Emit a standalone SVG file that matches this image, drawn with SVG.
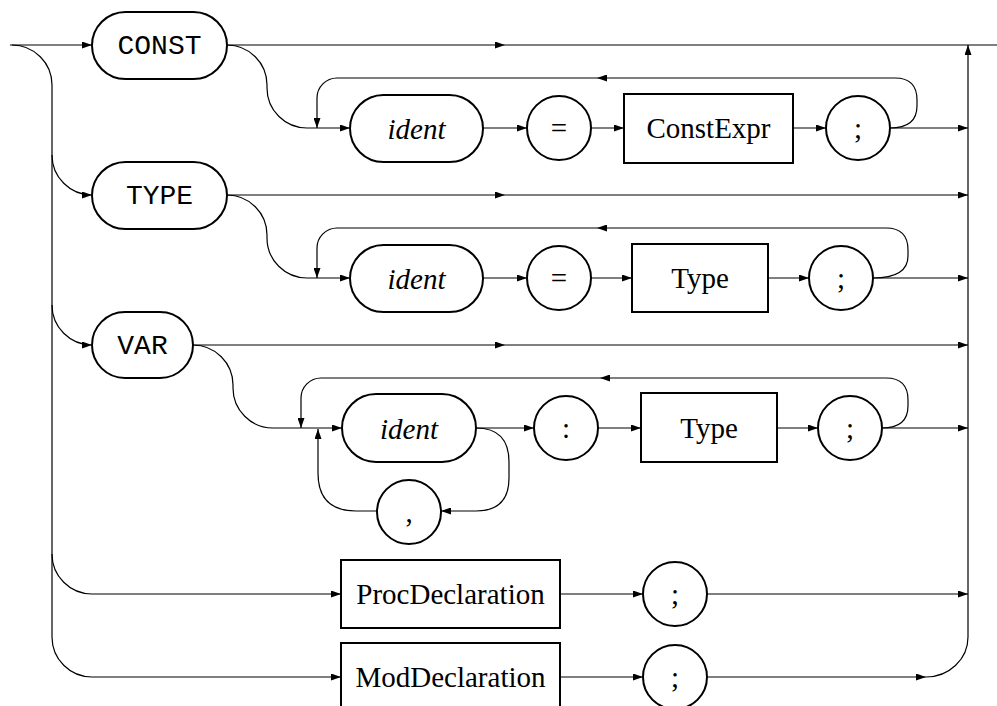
<svg xmlns="http://www.w3.org/2000/svg" width="997" height="706" viewBox="0 0 997 706">
<style>
.n{fill:#fff;stroke:#000;stroke-width:2}
.c{fill:none;stroke:#000;stroke-width:1.2}
.m{font-family:"Liberation Mono",monospace;font-size:28px;text-anchor:middle;fill:#000}
.s{font-family:"Liberation Serif",serif;font-size:29px;text-anchor:middle;fill:#000}
.i{font-style:italic}
</style>
<defs>
<marker id="a" viewBox="0 0 10 7" refX="10" refY="3.5" markerWidth="10" markerHeight="7" markerUnits="userSpaceOnUse" orient="auto">
<path d="M0,0 L10,3.5 L0,7 z" fill="#000"/>
</marker>
</defs>
<rect width="997" height="706" fill="#fff"/>
<g id="connectors" class="c" marker-end="url(#a)">
<!-- entry and left bus -->
<path d="M10,45 H92"/>
<path d="M12,45 A40,40 0 0 1 52,85 V637 A40,40 0 0 0 92,677 H341"/>
<path d="M52,155 A40,40 0 0 0 92,195"/>
<path d="M52,305 A40,40 0 0 0 92,345"/>
<path d="M52,554 A40,40 0 0 0 92,594 H341"/>
<!-- right bus -->
<path d="M968,637 V45"/>
<path d="M926,677 A42,40 0 0 0 968,637" marker-end="none"/>
<!-- CONST row -->
<path d="M227,45 H505"/>
<path d="M505,45 H997" marker-end="none"/>
<path d="M227,45 A40,40 0 0 1 267,85 V88 A40,40 0 0 0 307,128 H350"/>
<path d="M890,128 Q917,128 917,106 V100 Q917,78 895,78 H597"/>
<path d="M597,78 H337 A20,20 0 0 0 317,98 V128"/>
<path d="M483,128 H527"/>
<path d="M591,128 H624"/>
<path d="M793,128 H826"/>
<path d="M890,128 H968"/>
<!-- TYPE row -->
<path d="M227,195 H505"/>
<path d="M505,195 H968"/>
<path d="M227,195 A40,40 0 0 1 267,235 V238 A40,40 0 0 0 307,278 H350"/>
<path d="M873,278 Q908,278 908,256 V250 Q908,228 886,228 H597"/>
<path d="M597,228 H337 A20,20 0 0 0 317,248 V278"/>
<path d="M483,278 H527"/>
<path d="M591,278 H632"/>
<path d="M768,278 H809"/>
<path d="M873,278 H968"/>
<!-- VAR row -->
<path d="M193,345 H505"/>
<path d="M505,345 H968"/>
<path d="M193,345 A40,40 0 0 1 233,385 V388 A40,40 0 0 0 273,428 H342"/>
<path d="M882,428 Q908,428 908,406 V400 Q908,378 886,378 H600"/>
<path d="M600,378 H321 A20,20 0 0 0 301,398 V428"/>
<path d="M476,428 Q509,428 509,462 V478 Q509,511 476,511 H441"/>
<path d="M377,511 H356 Q318,511 318,473 V429"/>
<path d="M476,428 H534"/>
<path d="M598,428 H641"/>
<path d="M777,428 H818"/>
<path d="M882,428 H968"/>
<!-- Proc / Mod rows -->
<path d="M560,594 H643"/>
<path d="M707,594 H968"/>
<path d="M560,677 H643"/>
<path d="M707,677 H926"/>
</g>
<g id="const"><rect class="n" x="92" y="12" width="135" height="67" rx="33.5"/><text class="m" x="159.5" y="54">CONST</text></g>
<g id="type"><rect class="n" x="92" y="162" width="135" height="67" rx="33.5"/><text class="m" x="159.5" y="204">TYPE</text></g>
<g id="var"><rect class="n" x="92" y="312" width="101" height="66" rx="33"/><text class="m" x="142.5" y="354">VAR</text></g>
<g id="ident1"><rect class="n" x="350" y="95" width="133" height="67" rx="33.5"/><text class="s i" x="416.5" y="139">ident</text></g>
<g id="eq1"><circle class="n" cx="559" cy="128" r="32"/><text class="s" x="559" y="138">=</text></g>
<g id="constexpr"><rect class="n" x="624" y="94" width="169" height="69"/><text class="s" x="708.5" y="138">ConstExpr</text></g>
<g id="semi1"><circle class="n" cx="858" cy="128" r="32"/><text class="s" x="858" y="138">;</text></g>
<g id="ident2"><rect class="n" x="350" y="245" width="133" height="67" rx="33.5"/><text class="s i" x="416.5" y="289">ident</text></g>
<g id="eq2"><circle class="n" cx="559" cy="278" r="32"/><text class="s" x="559" y="288">=</text></g>
<g id="type2"><rect class="n" x="632" y="244" width="136" height="68"/><text class="s" x="700" y="288">Type</text></g>
<g id="semi2"><circle class="n" cx="841" cy="278" r="32"/><text class="s" x="841" y="288">;</text></g>
<g id="ident3"><rect class="n" x="342" y="394" width="134" height="68" rx="34"/><text class="s i" x="409" y="439">ident</text></g>
<g id="colon"><circle class="n" cx="566" cy="428" r="32"/><text class="s" x="566" y="438">:</text></g>
<g id="comma"><circle class="n" cx="409" cy="512" r="32"/><text class="s" x="409" y="522">,</text></g>
<g id="type3"><rect class="n" x="641" y="393" width="136" height="69"/><text class="s" x="709" y="438">Type</text></g>
<g id="semi3"><circle class="n" cx="850" cy="428" r="32"/><text class="s" x="850" y="438">;</text></g>
<g id="proc"><rect class="n" x="341" y="560" width="219" height="68"/><text class="s" x="450.5" y="604">ProcDeclaration</text></g>
<g id="semi4"><circle class="n" cx="675" cy="594" r="32"/><text class="s" x="675" y="604">;</text></g>
<g id="mod"><rect class="n" x="341" y="643" width="219" height="70"/><text class="s" x="450.5" y="687">ModDeclaration</text></g>
<g id="semi5"><circle class="n" cx="675" cy="677" r="32"/><text class="s" x="675" y="687">;</text></g>
</svg>
